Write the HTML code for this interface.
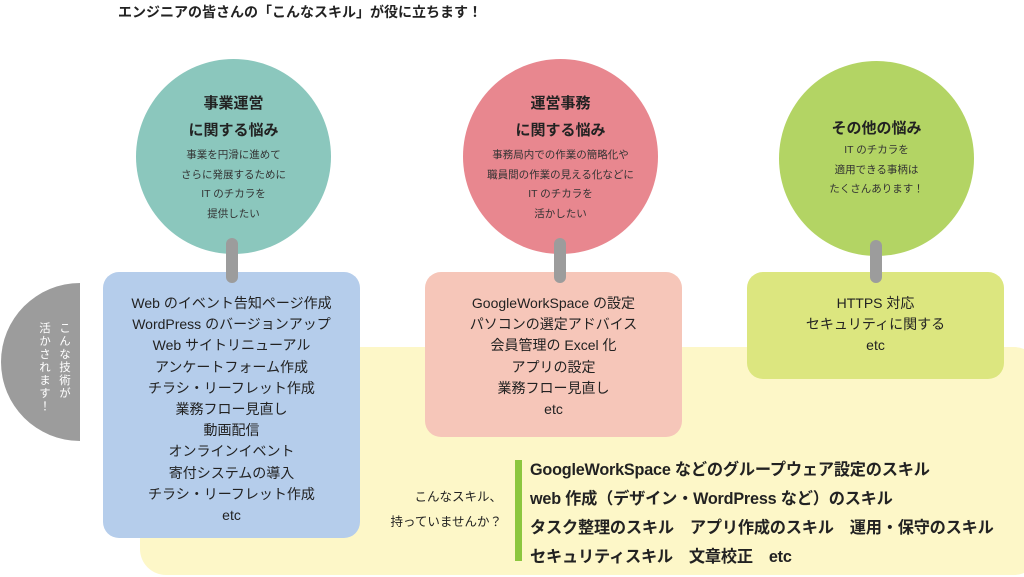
<!DOCTYPE html>
<html><head><meta charset="utf-8"><style>
*{margin:0;padding:0;box-sizing:border-box}
body{width:1024px;height:577px;background:#fff;position:relative;overflow:hidden;font-family:"Liberation Sans","Noto Sans CJK JP",sans-serif;color:#222}
.a{position:absolute}
.c{position:absolute;border-radius:50%;text-align:center}
.h{font-weight:bold;font-size:15px;line-height:27px}
.s{font-size:10.5px;line-height:19.5px;color:#333}
.bar{position:absolute;width:12px;background:#9c9c9c;border-radius:6px}
.box{position:absolute;border-radius:16px;text-align:center;font-size:14px;line-height:21.2px;color:#222}
.sk{position:absolute;left:530px;font-size:16.2px;font-weight:bold;white-space:nowrap;letter-spacing:-0.2px}
</style></head><body>
<div class="a" style="left:118px;top:2px;font-size:14px;font-weight:bold">エンジニアの皆さんの「こんなスキル」が役に立ちます！</div>

<div class="a" style="left:140px;top:347px;width:900px;height:228px;background:#fdf7c8;border-radius:26px"></div>

<div class="a" style="left:1px;top:283px;width:158px;height:158px;border-radius:50%;background:#9c9c9c;clip-path:inset(0 79px 0 0)"></div>
<div class="a" style="left:30px;top:322px;width:44px;height:95px;writing-mode:vertical-rl;color:#fff;font-size:11.5px;line-height:20px;letter-spacing:1.5px">こんな技術が<br>活かされます！</div>

<div class="c" style="left:136px;top:59px;width:195px;height:195px;background:#8bc7bd">
<div class="h" style="margin-top:31px">事業運営<br>に関する悩み</div>
<div class="s" style="margin-top:2px">事業を円滑に進めて<br>さらに発展するために<br>IT のチカラを<br>提供したい</div></div>
<div class="c" style="left:463px;top:59px;width:195px;height:195px;background:#e8878f">
<div class="h" style="margin-top:31px">運営事務<br>に関する悩み</div>
<div class="s" style="margin-top:2px">事務局内での作業の簡略化や<br>職員間の作業の見える化などに<br>IT のチカラを<br>活かしたい</div></div>
<div class="c" style="left:779px;top:61px;width:195px;height:195px;background:#b3d464">
<div class="h" style="margin-top:54px">その他の悩み</div>
<div class="s" style="margin-top:-1px">IT のチカラを<br>適用できる事柄は<br>たくさんあります！</div></div>

<div class="box" style="left:103px;top:272px;width:257px;height:266px;background:#b5cdeb;padding-top:21px">Web のイベント告知ページ作成<br>WordPress のバージョンアップ<br>Web サイトリニューアル<br>アンケートフォーム作成<br>チラシ・リーフレット作成<br>業務フロー見直し<br>動画配信<br>オンラインイベント<br>寄付システムの導入<br>チラシ・リーフレット作成<br>etc</div>
<div class="box" style="left:425px;top:272px;width:257px;height:165px;background:#f6c6b9;padding-top:21px">GoogleWorkSpace の設定<br>パソコンの選定アドバイス<br>会員管理の Excel 化<br>アプリの設定<br>業務フロー見直し<br>etc</div>
<div class="box" style="left:747px;top:272px;width:257px;height:107px;background:#dce67f;padding-top:21px">HTTPS 対応<br>セキュリティに関する<br>etc</div>

<div class="bar" style="left:226px;top:238px;height:45px"></div>
<div class="bar" style="left:554px;top:238px;height:45px"></div>
<div class="bar" style="left:870px;top:240px;height:43px"></div>

<div class="a" style="left:360px;top:485px;width:142px;text-align:right;font-size:12.5px;line-height:25px">こんなスキル、<br>持っていませんか？</div>
<div class="a" style="left:515px;top:460px;width:7px;height:101px;background:#8cc63f"></div>
<div class="sk" style="top:456px">GoogleWorkSpace などのグループウェア設定のスキル</div>
<div class="sk" style="top:485px">web 作成（デザイン・WordPress など）のスキル</div>
<div class="sk" style="top:514px">タスク整理のスキル　アプリ作成のスキル　運用・保守のスキル</div>
<div class="sk" style="top:543px">セキュリティスキル　文章校正　etc</div>
</body></html>
